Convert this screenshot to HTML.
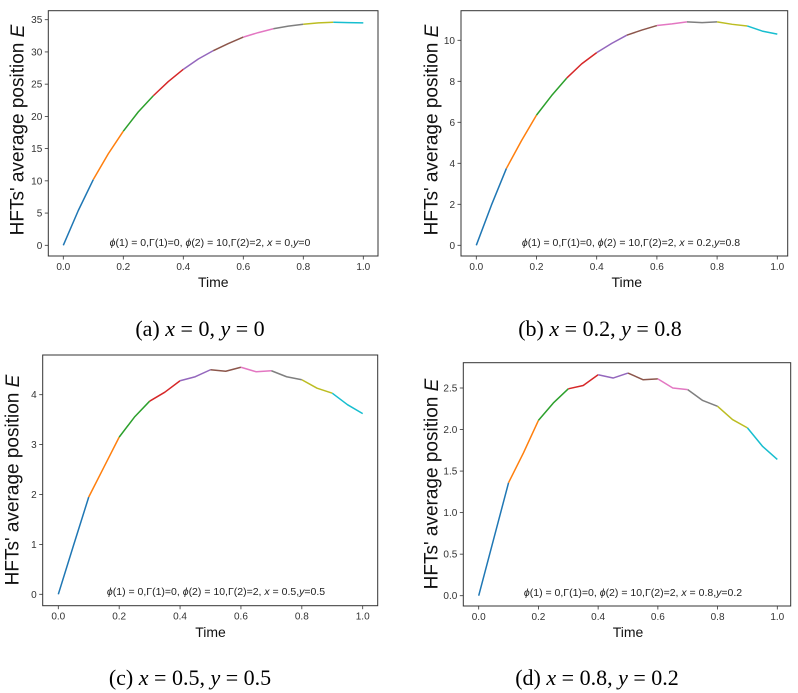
<!DOCTYPE html>
<html><head><meta charset="utf-8"><style>
body{margin:0;background:#fff;}
svg{display:block;font-family:"Liberation Sans","DejaVu Sans",sans-serif;}
.cap{font-family:"Liberation Serif",serif;font-size:22px;fill:#000;}
</style></head><body>
<svg id="fig" width="798" height="693" viewBox="0 0 798 693" xmlns="http://www.w3.org/2000/svg"></svg>
<script>
const times = [0,0.05,0.1,0.15,0.2,0.25,0.3,0.35,0.4,0.45,0.5,0.55,0.6,0.65,0.7,0.75,0.8,0.85,0.9,0.95,1.0];
const seriesA = [0,5.4,10.2,14.2,17.7,20.7,23.2,25.4,27.3,28.9,30.2,31.3,32.3,33.0,33.6,34.0,34.3,34.5,34.6,34.55,34.5];
const seriesB = [0,1.95,3.75,5.1,6.35,7.3,8.15,8.85,9.4,9.85,10.25,10.5,10.72,10.8,10.9,10.86,10.9,10.78,10.7,10.45,10.3];
const seriesC = [0,0.98,1.95,2.55,3.15,3.55,3.87,4.05,4.28,4.36,4.5,4.47,4.55,4.46,4.48,4.36,4.3,4.13,4.03,3.8,3.62];
const seriesD = [0,0.68,1.36,1.72,2.11,2.32,2.49,2.53,2.66,2.62,2.68,2.6,2.61,2.5,2.48,2.35,2.28,2.12,2.02,1.8,1.64];
const xTicks = [0,0.2,0.4,0.6,0.8,1.0];
const yTicksA = [0,5,10,15,20,25,30,35];
const yTicksB = [0,2,4,6,8,10];
const yTicksC = [0,1,2,3,4];
const yTicksD = [0,0.5,1.0,1.5,2.0,2.5];
const colors = ['#1f77b4','#ff7f0e','#2ca02c','#d62728','#9467bd','#8c564b','#e377c2','#7f7f7f','#bcbd22','#17becf'];

const NS="http://www.w3.org/2000/svg";
const svg=document.getElementById('fig');
function mk(tag,attrs,parent){const e=document.createElementNS(NS,tag);for(const k in attrs)e.setAttribute(k,attrs[k]);(parent||svg).appendChild(e);return e;}
const I=s=>'<tspan font-style="italic">'+s+'</tspan>';

const panels=[
 {id:'a',data:seriesA,yt:yTicksA,dec:0,box:[48.3,10.7,378,256],x0:63.3,x1:363.3,yv0:0,yp0:245.3,yv1:35,yp1:19.7,ylabX:18,ylabY:130,timeY:287,annX:210,annY:246,xv:'0',yv:'0',capX:200,capY:336},
 {id:'b',data:seriesB,yt:yTicksB,dec:0,box:[461,10.7,787.7,256],x0:476.3,x1:777.3,yv0:0,yp0:245.3,yv1:10,yp1:40.3,ylabX:432,ylabY:130,timeY:287,annX:631,annY:246,xv:'0.2',yv:'0.8',capX:600,capY:336},
 {id:'c',data:seriesC,yt:yTicksC,dec:0,box:[42.7,355,377.7,605.7],x0:58.3,x1:362.7,yv0:0,yp0:594.3,yv1:4,yp1:394.7,ylabX:13,ylabY:480,timeY:637,annX:216,annY:595,xv:'0.5',yv:'0.5',capX:190,capY:685},
 {id:'d',data:seriesD,yt:yTicksD,dec:1,box:[463.3,362.7,790.7,606],x0:478.7,x1:777.3,yv0:0,yp0:595.7,yv1:2.5,yp1:388,ylabX:432,ylabY:484,timeY:637,annX:633,annY:596,xv:'0.8',yv:'0.2',capX:597,capY:685}
];

panels.forEach(p=>{
 const g=mk('g',{});
 
 
 const xs=v=>p.x0+(p.x1-p.x0)*v;
 const ys=v=>p.yp0+(p.yp1-p.yp0)*(v-p.yv0)/(p.yv1-p.yv0);
 const [L,T,R,B]=p.box;
 const fr=mk('rect',{x:L,y:T,width:R-L,height:B-T,fill:'none',stroke:'#333','stroke-width':1},g);
 
 
 xTicks.forEach(t=>{
  const x=xs(t);
  mk('line',{x1:x,y1:B,x2:x,y2:B+3.5,stroke:'#333','stroke-width':0.8},g);
  const tx=mk('text',{x:x,y:B+14,'font-size':10,'text-anchor':'middle',fill:'#333'},g);
  tx.textContent=t.toFixed(1);
  
  
 });
 p.yt.forEach(t=>{
  const y=ys(t);
  mk('line',{x1:L,y1:y,x2:L-3.5,y2:y,stroke:'#333','stroke-width':0.8},g);
  const tx=mk('text',{x:L-6,y:y+3.5,'font-size':10,'text-anchor':'end',fill:'#333'},g);
  tx.textContent=t.toFixed(p.dec);
  
  
 });
 for(let s=0;s<10;s++){
  let pts=[];
  for(let i=2*s;i<=2*s+2;i++)pts.push(xs(times[i]).toFixed(2)+','+ys(p.data[i]).toFixed(2));
  const pl=mk('polyline',{points:pts.join(' '),fill:'none',stroke:colors[s],'stroke-width':1.5,'stroke-linejoin':'round'},g);
  
  
 }
 const yl=mk('text',{x:p.ylabX,y:p.ylabY,'font-size':19,'text-anchor':'middle',fill:'#111',transform:`rotate(-90 ${p.ylabX} ${p.ylabY})`,'dominant-baseline':'central'},g);
 yl.innerHTML="HFTs' average position "+I('E');
 
 
 const xl=mk('text',{x:(p.x0+p.x1)/2,y:p.timeY,'font-size':14,'text-anchor':'middle',fill:'#111'},g);
 xl.textContent='Time';
 
 
 const an=mk('text',{x:p.annX,y:p.annY,'font-size':10.5,'text-anchor':'middle',fill:'#222'},g);
 an.innerHTML=I('ϕ')+'(1) = 0,Γ(1)=0, '+I('ϕ')+'(2) = 10,Γ(2)=2, '+I('x')+' = '+p.xv+','+I('y')+'='+p.yv;
 
 
 const cp=mk('text',{x:p.capX,y:p.capY,'text-anchor':'middle',class:'cap'},g);
 cp.innerHTML='('+p.id+') '+I('x')+' = '+p.xv+', '+I('y')+' = '+p.yv;
 
 
});
</script>
</body></html>
